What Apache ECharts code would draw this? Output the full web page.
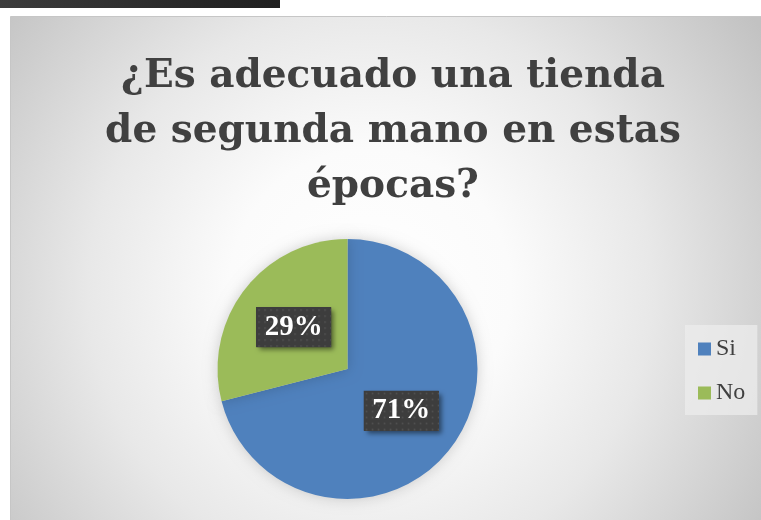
<!DOCTYPE html>
<html>
<head>
<meta charset="utf-8">
<script src="https://cdn.jsdelivr.net/npm/echarts@6/dist/echarts.min.js"></script>
<style>
  html, body { margin: 0; padding: 0; background: #ffffff; }
  #chart { width: 761px; height: 520px; }
</style>
</head>
<body>
<div id="chart"></div>
<script>
// Survey answers and their shares (percent)
const categories = ['Si', 'No'];
const shares = [71, 29];
const sliceColors = ['#4f81bd', '#9bbb59'];
const titleLines = ['¿Es adecuado una tienda', 'de segunda mano en estas', 'épocas?'];

// Dotted dark tile used behind the percentage labels
function dottedTile(w, h) {
  const c = document.createElement('canvas');
  c.width = w; c.height = h;
  const ctx = c.getContext('2d');
  ctx.fillStyle = '#3d3d3d';
  ctx.fillRect(0, 0, w, h);
  ctx.fillStyle = '#575757';
  for (let y = 2; y < h; y += 6) {
    for (let x = 2; x < w; x += 6) {
      ctx.fillRect(x, y, 1.5, 1.5);
    }
  }
  return c.toDataURL();
}
const tile = dottedTile(75, 40);

const chart = echarts.init(document.getElementById('chart'), null, { renderer: 'canvas' });

chart.setOption({
  backgroundColor: '#ffffff',
  animation: false,
  graphic: [
    {
      type: 'rect', z: -10, silent: true,
      shape: { x: 0, y: 0, width: 280, height: 8 },
      style: {
        fill: { type: 'linear', x: 0, y: 0, x2: 1, y2: 0,
          colorStops: [{ offset: 0, color: '#3c3c3c' }, { offset: 1, color: '#1f1f1f' }] }
      }
    },
    {
      type: 'rect', z: -10, silent: true,
      shape: { x: 10.5, y: 16.5, width: 760, height: 520 },
      style: {
        fill: { type: 'radial', x: 370, y: 290, r: 470, global: true,
          colorStops: [
            { offset: 0, color: '#ffffff' },
            { offset: 0.3, color: '#fbfbfb' },
            { offset: 0.6, color: '#e8e8e8' },
            { offset: 1, color: '#c2c2c2' }
          ] },
        stroke: '#c6c6c6', lineWidth: 1
      }
    }
  ],
  title: {
    text: titleLines.join('\n'),
    left: 388,
    top: 44,
    textAlign: 'center',
    textStyle: {
      fontFamily: 'DejaVu Serif',
      fontWeight: 'bold',
      fontSize: 39,
      lineHeight: 55,
      color: '#404040'
    }
  },
  legend: {
    orient: 'vertical',
    left: 685,
    top: 325,
    padding: [12, 12, 10, 13],
    backgroundColor: 'rgba(236,236,236,0.75)',
    itemWidth: 13,
    itemHeight: 13,
    itemGap: 20,
    icon: 'rect',
    data: categories,
    textStyle: {
      fontFamily: 'Liberation Serif',
      fontSize: 24,
      lineHeight: 20,
      color: '#404040'
    }
  },
  series: [
    {
      type: 'pie',
      center: [347.5, 369],
      radius: 130,
      startAngle: 90,
      clockwise: true,
      color: sliceColors,
      itemStyle: {
        shadowBlur: 14,
        shadowColor: 'rgba(0,0,0,0.18)'
      },
      emphasis: { disabled: true },
      label: {
        show: true,
        position: 'inside',
        formatter: p => '{t|' + p.value + '%}',
        padding: 0,
        backgroundColor: '#3d3d3d',
        shadowColor: 'rgba(0,0,0,0.5)',
        shadowBlur: 5,
        shadowOffsetX: 3,
        shadowOffsetY: 3,
        rich: {
          t: {
            fontFamily: 'Liberation Serif',
            fontWeight: 'bold',
            fontSize: 29,
            color: '#ffffff',
            width: 75,
            height: 40,
            lineHeight: 40,
            align: 'center',
            verticalAlign: 'middle',
            backgroundColor: { image: tile }
          }
        }
      },
      labelLine: { show: false },
      data: categories.map((name, i) => ({ name, value: shares[i] }))
    }
  ]
});
</script>
</body>
</html>
